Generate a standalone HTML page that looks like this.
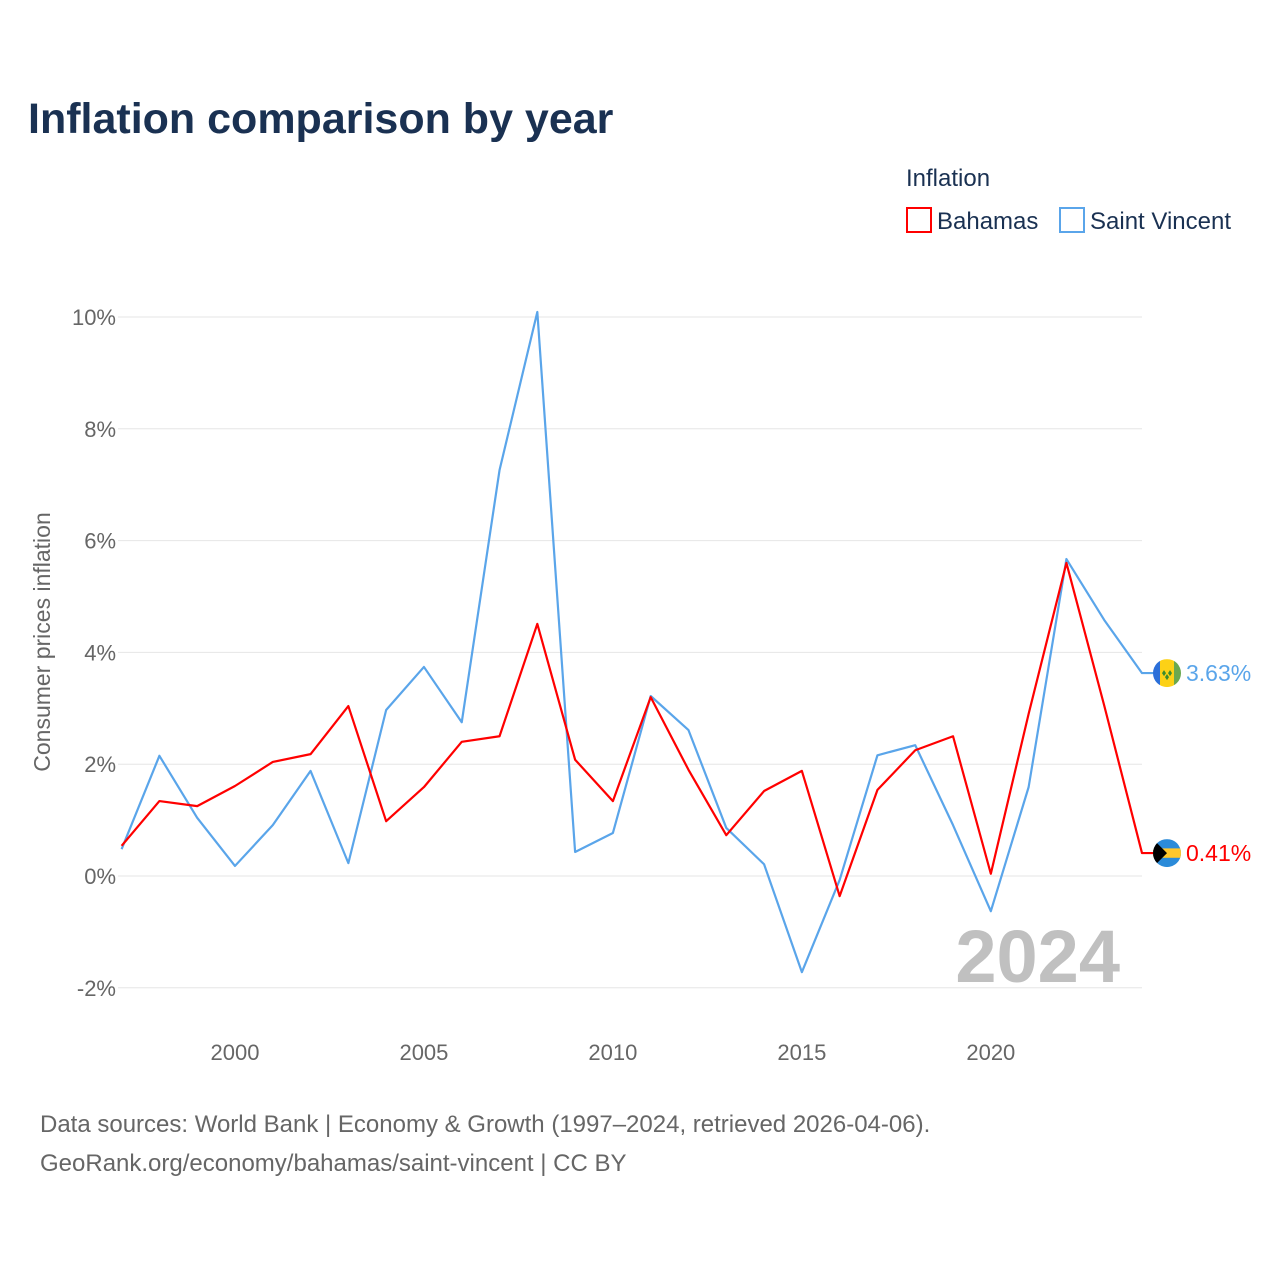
<!DOCTYPE html>
<html><head><meta charset="utf-8"><style>
body{margin:0;background:#fff;font-family:"Liberation Sans",sans-serif}
svg text{font-family:"Liberation Sans",sans-serif}
</style></head><body>
<svg id="chart" width="1280" height="1280" xmlns="http://www.w3.org/2000/svg">
<rect width="1280" height="1280" fill="#fff"/>
<text x="28" y="133" font-size="43" font-weight="bold" fill="#1a3152">Inflation comparison by year</text>
<text x="906" y="186" font-size="24" fill="#1a3152">Inflation</text>
<g><rect x="907" y="208" width="24" height="24" fill="none" stroke="#f00" stroke-width="2"/><text x="937" y="229" font-size="24" fill="#1a3152">Bahamas</text></g>
<g><rect x="1060" y="208" width="24" height="24" fill="none" stroke="#5aa5ea" stroke-width="2"/><text x="1090" y="229" font-size="24" fill="#1a3152">Saint Vincent</text></g>
<text transform="translate(50,642) rotate(-90)" text-anchor="middle" font-size="23" fill="#666">Consumer prices inflation</text>
<g id="grid"></g><g id="xt"></g>
<text x="1120" y="982" text-anchor="end" font-size="74" font-weight="bold" fill="#c0c0c0">2024</text>
<g id="lines"></g>
<text x="40" y="1132" font-size="24" fill="#666">Data sources: World Bank | Economy &amp; Growth (1997–2024, retrieved 2026-04-06).</text>
<text x="40" y="1171" font-size="24" fill="#666">GeoRank.org/economy/bahamas/saint-vincent | CC BY</text>
</svg>
<script>
const years=[1997,1998,1999,2000,2001,2002,2003,2004,2005,2006,2007,2008,2009,2010,2011,2012,2013,2014,2015,2016,2017,2018,2019,2020,2021,2022,2023,2024];
const bahamas=[0.54,1.34,1.25,1.61,2.04,2.18,3.04,0.98,1.59,2.40,2.50,4.51,2.08,1.34,3.20,1.9,0.73,1.52,1.88,-0.36,1.54,2.25,2.5,0.04,2.9,5.6,3.05,0.41];
const saintVincent=[0.48,2.15,1.04,0.18,0.91,1.88,0.23,2.97,3.74,2.75,7.26,10.09,0.43,0.77,3.22,2.61,0.86,0.21,-1.72,-0.07,2.16,2.34,0.91,-0.63,1.59,5.67,4.58,3.63];
const yTicks=[-2,0,2,4,6,8,10];
const xTicks=[2000,2005,2010,2015,2020];
const NS="http://www.w3.org/2000/svg";
const X=y=>121.6+(y-1997)*(1142-121.6)/27;
const Y=v=>876-v*55.9;
function mk(t,a,p){const e=document.createElementNS(NS,t);for(const k in a)e.setAttribute(k,a[k]);p.appendChild(e);return e;}
const grid=document.getElementById('grid');
yTicks.forEach(v=>{
 const l=mk('line',{x1:118,x2:1142,y1:Y(v),y2:Y(v),stroke:'#e6e6e6'},grid);
 
 
 const t=mk('text',{x:116,y:Y(v)+8,'text-anchor':'end','font-size':22,fill:'#666'},grid);
 t.textContent=v+'%';
 
 
});
const xt=document.getElementById('xt');
xTicks.forEach(v=>{
 const t=mk('text',{x:X(v),y:1060,'text-anchor':'middle','font-size':22,fill:'#666'},xt);
 t.textContent=v;
 
 
});
const lines=document.getElementById('lines');
function flag(name,cy){
 const g=mk('g',{},lines);
 
 
 const cp=mk('clipPath',{id:'cp-'+name},g);
 mk('circle',{cx:1167,cy:cy,r:14},cp);
 const f=mk('g',{'clip-path':'url(#cp-'+name+')'},g);
 if(name==='bahamas'){
  mk('rect',{x:1153,y:cy-14,width:28,height:28,fill:'#2b8bd9'},f);
  mk('rect',{x:1153,y:cy-4.7,width:28,height:9.4,fill:'#ffc72c'},f);
  mk('polygon',{points:`1153,${cy-14} 1167,${cy} 1153,${cy+14}`,fill:'#000'},f);
 }else{
  mk('rect',{x:1153,y:cy-14,width:7,height:28,fill:'#2b6fd9'},f);
  mk('rect',{x:1160,y:cy-14,width:14,height:28,fill:'#fcd116'},f);
  mk('rect',{x:1174,y:cy-14,width:7,height:28,fill:'#6aa84f'},f);
  mk('polygon',{points:`1164,${cy-3} 1166,${cy} 1164,${cy+3} 1162,${cy}`,fill:'#3a8a2e'},f);
  mk('polygon',{points:`1170,${cy-3} 1172,${cy} 1170,${cy+3} 1168,${cy}`,fill:'#3a8a2e'},f);
  mk('polygon',{points:`1167,${cy+1} 1169,${cy+4} 1167,${cy+7} 1165,${cy+4}`,fill:'#3a8a2e'},f);
 }
}
function series(vals,color,name,label){
 const pts=vals.map((v,i)=>X(years[i])+','+Y(v));
 const last=vals[vals.length-1];
 pts.push((X(2024)+12)+','+Y(last));
 const p=mk('polyline',{points:pts.join(' '),fill:'none',stroke:color,'stroke-width':2.2,'stroke-linejoin':'round'},lines);
 
 
 flag(name,Y(last));
 const t=mk('text',{x:1186,y:Y(last)+8,'font-size':23,fill:color},lines);
 t.textContent=label;
 
 
}
series(saintVincent,'#5aa5ea','saint-vincent',saintVincent[saintVincent.length-1].toFixed(2)+'%');
series(bahamas,'#f00','bahamas',bahamas[bahamas.length-1].toFixed(2)+'%');
</script>
</body></html>
